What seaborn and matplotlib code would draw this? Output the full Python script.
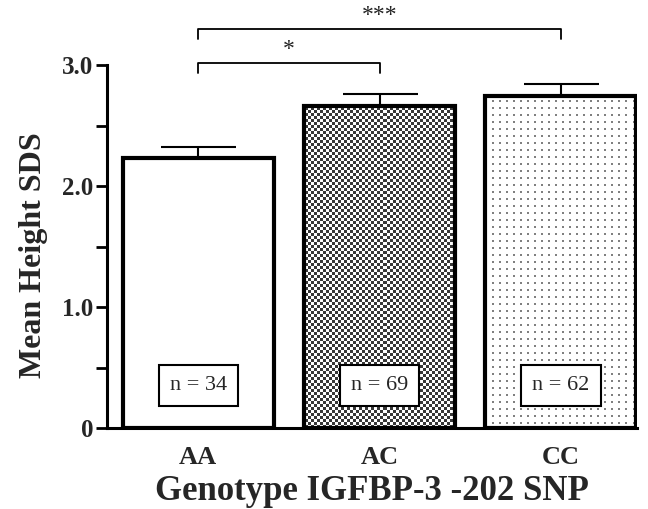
import numpy as np
import pandas as pd
import seaborn as sns
import matplotlib
matplotlib.use("Agg")
import matplotlib.pyplot as plt
from matplotlib.ticker import MultipleLocator

# ---- data ----
genotypes = ["AA", "AC", "CC"]
mean_sds = [2.23, 2.66, 2.74]
sem = [0.09, 0.10, 0.10]
n_labels = ["n = 34", "n = 69", "n = 62"]
y_ticks = [0, 1.0, 2.0, 3.0]
y_tick_labels = ["0", "1.0", "2.0", "3.0"]
comparisons = [(0, 1, "*", 3.02), (0, 2, "***", 3.30)]

sns.set_theme(style="ticks")
plt.rcParams['font.family'] = ['Liberation Serif', 'DejaVu Serif']

W, H = 648, 509
fig = plt.figure(figsize=(W / 100, H / 100), dpi=100)
ax_l, ax_b, ax_r, ax_t = 107, 428, 637, 65
ax = fig.add_axes([ax_l / W, 1 - ax_b / H, (ax_r - ax_l) / W, (ax_b - ax_t) / H])

df = pd.DataFrame({"genotype": genotypes, "mean": mean_sds})
sns.barplot(data=df, x="genotype", y="mean", color="white", saturation=1,
            edgecolor="black", linewidth=3, width=0.834, errorbar=None, ax=ax)

xlim = (-0.503, 2.42)
ylim = (0, 3.0)

patches = list(ax.patches)
for p in patches:
    p.set_zorder(2)

# pattern fills
ph, pw = ax_b - ax_t, ax_r - ax_l
yy, xx = np.mgrid[0:ph, 0:pw]
checker = ((yy // 3 + xx // 3) % 2).astype(float) * 0.78 + 0.22
dots = np.ones((ph, pw))
mask = ((yy % 7) < 2) & ((xx % 7) < 2)
dots[mask] = 0.5

for p, img in ((patches[1], checker), (patches[2], dots)):
    p.set_facecolor((1, 1, 1, 0))
    im = ax.imshow(img, extent=(xlim[0], xlim[1], ylim[0], ylim[1]), aspect="auto",
                   cmap="gray", vmin=0, vmax=1, interpolation="nearest", zorder=1.5)
    im.set_clip_path(p)

# error bars (upper only; lower cap hidden under bar edge)
x_pos = np.arange(len(genotypes))
ax.errorbar(x_pos, mean_sds, yerr=[np.zeros(len(sem)), sem], fmt="none",
            ecolor="black", elinewidth=1.5, capsize=27, capthick=1.5, zorder=1.8)

# n boxes
for i, lab in enumerate(n_labels):
    ax.text(i, 0.35, lab, ha="center", va="center", fontsize=16, zorder=4,
            bbox=dict(boxstyle="square,pad=0.5", fc="white", ec="black", lw=1.5))

# significance brackets
for a, b, star, yb in comparisons:
    ax.plot([a, a, b, b], [yb - 0.085, yb, yb, yb - 0.085], color="black", lw=1.3,
            clip_on=False, zorder=4)
    ax.text((a + b) / 2, yb + 0.02, star, ha="center", va="bottom", fontsize=17,
            clip_on=False, color="#222222")

ax.set_xlim(*xlim)
ax.set_ylim(*ylim)
ax.set_yticks(y_ticks)
ax.set_yticklabels(y_tick_labels, fontsize=18, fontweight="bold")
ax.yaxis.set_minor_locator(MultipleLocator(0.5))
ax.tick_params(axis="y", which="both", length=8, width=2, direction="out", pad=2, color="black")
ax.tick_params(axis="x", length=0, pad=13)
for t in ax.get_xticklabels():
    t.set_fontsize(19)
    t.set_fontweight("bold")

ax.set_xlabel("Genotype IGFBP-3 -202 SNP", fontsize=25, fontweight="bold", labelpad=4)
ax.set_ylabel("Mean Height SDS", fontsize=23, fontweight="bold")
ax.yaxis.set_label_coords(-0.112, 0.475)

sns.despine(ax=ax)
for s in ("left", "bottom"):
    ax.spines[s].set_linewidth(2.2)
    ax.spines[s].set_color("black")

fig.savefig("out.png", dpi=100)
